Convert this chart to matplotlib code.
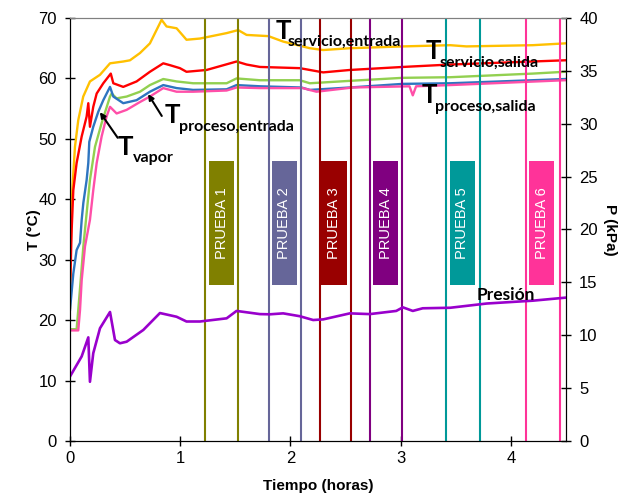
import matplotlib
matplotlib.use("Agg")
import matplotlib.pyplot as plt
from matplotlib.patches import Rectangle

# temperatures (left axis), time in hours
t_serv_in = [0, 0.006, 0.021, 0.045, 0.075, 0.12, 0.181, 0.272, 0.363, 0.483, 0.544, 0.635, 0.725, 0.831,
             0.876, 0.967, 1.057, 1.179, 1.421, 1.526, 1.602, 1.8, 1.934, 2.176, 2.297, 2.539, 3.02, 3.45,
             3.596, 4.198, 4.49]
T_serv_in = [22, 32, 41.5, 48.7, 53.1, 57, 59.5, 60.6, 62.5, 62.8, 63.0, 64.2, 65.8, 69.7,
             68.6, 68.3, 66.4, 66.6, 67.5, 68.0, 67.2, 67.0, 66.1, 65.0, 64.7, 65.0, 65.3, 65.5,
             65.3, 65.5, 65.8]

t_serv_out = [0, 0.015, 0.03, 0.06, 0.106, 0.151, 0.166, 0.181, 0.211, 0.242, 0.302, 0.37, 0.393, 0.483,
              0.604, 0.725, 0.846, 0.906, 0.997, 1.057, 1.239, 1.511, 1.602, 1.723, 2.085, 2.297, 2.539,
              3.02, 3.45, 4.49]
T_serv_out = [24.5, 34.9, 41.5, 46, 50.4, 53.7, 55.9, 52.0, 55.3, 57.5, 59.2, 60.8, 59.2, 58.6,
              59.5, 61.1, 62.5, 62.2, 61.7, 61.1, 61.4, 62.8, 62.3, 61.9, 61.7, 61.0, 61.4,
              61.9, 62.3, 63.0]

t_proc_in = [0, 0.06, 0.075, 0.097, 0.121, 0.151, 0.181, 0.227, 0.287, 0.363, 0.378, 0.423, 0.514, 0.635,
             0.725, 0.846, 0.967, 1.117, 1.421, 1.511, 1.723, 2.085, 2.176, 2.539, 3.02, 3.45, 4.198, 4.49]
T_proc_in = [18.5, 18.5, 21.7, 26.6, 32.2, 37.7, 43.2, 48.7, 52.6, 57.0, 57.5, 56.7, 57.0, 57.8,
             58.9, 59.9, 59.5, 59.2, 59.2, 60.0, 59.7, 59.7, 59.2, 59.6, 60.1, 60.2, 60.8, 61.1]

t_vapor = [0, 0.03, 0.06, 0.091, 0.106, 0.121, 0.151, 0.166, 0.175, 0.211, 0.257, 0.302, 0.363, 0.393,
           0.483, 0.604, 0.725, 0.846, 0.967, 1.117, 1.421, 1.511, 1.723, 2.1, 2.176, 2.539, 3.02, 3.45, 4.49]
T_vapor = [21.7, 27.7, 31.6, 32.8, 36.6, 39.4, 43.2, 46.0, 49.5, 52.0, 54.5, 56.4, 58.6, 57.0,
           55.9, 56.4, 57.8, 58.9, 58.4, 58.1, 58.2, 58.9, 58.7, 58.5, 58.1, 58.5, 59.1, 59.2, 59.9]

t_proc_out = [0, 0.075, 0.091, 0.106, 0.136, 0.181, 0.211, 0.242, 0.287, 0.332, 0.363, 0.423, 0.514, 0.635,
              0.725, 0.846, 0.967, 1.117, 1.421, 1.511, 1.723, 2.112, 2.236, 2.566, 3.08, 3.11, 3.14,
              3.45, 4.49]
T_proc_out = [18.3, 18.3, 21.7, 26.6, 32.2, 36.6, 41.5, 46, 50.4, 53.7, 55.3, 54.2, 54.8, 56.1,
              57.0, 58.4, 57.8, 57.8, 58.0, 58.5, 58.4, 58.4, 57.8, 58.5, 58.7, 57.2, 58.7,
              58.9, 59.7]

# pressure (right axis, kPa)
t_pres = [0, 0.106, 0.166, 0.181, 0.211, 0.272, 0.363, 0.408, 0.453, 0.514, 0.665, 0.816, 0.967, 1.057,
          1.179, 1.421, 1.511, 1.723, 1.813, 1.934, 2.085, 2.206, 2.297, 2.539, 2.72, 2.96, 3.02, 3.11,
          3.2, 3.45, 3.78, 4.2, 4.49]
P_pres = [6.1, 8.0, 9.8, 5.6, 8.3, 10.66, 12.2, 9.55, 9.24, 9.39, 10.5, 12.1, 11.75, 11.3,
          11.3, 11.6, 12.3, 12.0, 11.98, 12.07, 11.8, 11.44, 11.5, 12.07, 12.0, 12.3, 12.64, 12.3,
          12.55, 12.6, 13.0, 13.27, 13.55]

# test periods (start, end) in hours
pruebas = ["PRUEBA 1", "PRUEBA 2", "PRUEBA 3", "PRUEBA 4", "PRUEBA 5", "PRUEBA 6"]
prueba_ini = [1.224, 1.805, 2.267, 2.726, 3.415, 4.134]
prueba_fin = [1.523, 2.10, 2.545, 3.013, 3.72, 4.445]
prueba_lbl_x = [1.375, 1.945, 2.395, 2.865, 3.558, 4.281]
prueba_col = ["#808000", "#666699", "#990000", "#800080", "#009999", "#FF3399"]

plt.rcParams['font.family'] = ['Liberation Sans', 'DejaVu Sans']

fig = plt.figure(figsize=(6.29, 4.93), dpi=100)
ax = fig.add_axes([70/629, 1-441/493, 496/629, 423/493])
ax2 = ax.twinx()

ax.plot(t_serv_in, T_serv_in, color="#FFC000", lw=1.7)
ax.plot(t_serv_out, T_serv_out, color="#FF0000", lw=1.7)
ax.plot(t_proc_in, T_proc_in, color="#92D050", lw=1.7)
ax.plot(t_vapor, T_vapor, color="#2E75C0", lw=1.7)
ax.plot(t_proc_out, T_proc_out, color="#FF4FA8", lw=1.7)
ax2.plot(t_pres, P_pres, color="#9900CC", lw=1.9)

for i in range(len(pruebas)):
    ax.axvline(prueba_ini[i], color=prueba_col[i], lw=1.5)
    ax.axvline(prueba_fin[i], color=prueba_col[i], lw=1.5)
    ax.add_patch(Rectangle((prueba_lbl_x[i] - 0.114, 25.8), 0.228, 20.5,
                           facecolor=prueba_col[i], edgecolor="none", zorder=3))
    ax.text(prueba_lbl_x[i], 36.1, pruebas[i], rotation=90, color="white", fontsize=10.5,
            ha="center", va="center", zorder=4)

ax.set_xlim(0, 4.5)
ax.set_ylim(0, 70)
ax2.set_ylim(0, 40)
ax.set_xticks([0, 1, 2, 3, 4])
ax.set_yticks(range(0, 71, 10))
ax2.set_yticks(range(0, 41, 5))

for a in (ax, ax2):
    a.tick_params(direction="inout", length=7, width=1, labelsize=12, pad=4)
    a.spines["top"].set_color("#808080")
ax.tick_params(axis="y", pad=6)
ax2.tick_params(axis="y", pad=6)

ax.set_xlabel("Tiempo (horas)", fontsize=11, fontweight="bold", labelpad=9)
ax.set_ylabel("T (°C)", fontsize=11, fontweight="bold", labelpad=-2)
ax2.set_ylabel("P (kPa)", fontsize=11, fontweight="bold", rotation=270, labelpad=14)

# curve labels
lf = ['Lato', 'DejaVu Sans']
big = 18.5
small = 11.5
ax.annotate("", xy=(0.257, 54.8), xytext=(0.447, 49.8),
            arrowprops=dict(arrowstyle="-|>", color="black", lw=1.5, mutation_scale=8))
ax.annotate("", xy=(0.695, 57.8), xytext=(0.846, 53.4),
            arrowprops=dict(arrowstyle="-|>", color="black", lw=1.5, mutation_scale=8))

ax.text(0.435, 47.4, "T", family=lf, fontweight="bold", fontsize=big)
ax.text(0.571, 46.1, "vapor", family=lf, fontweight="bold", fontsize=small)
ax.text(0.861, 52.6, "T", family=lf, fontweight="bold", fontsize=big)
ax.text(0.985, 51.3, "proceso,entrada", family=lf, fontweight="bold", fontsize=small)
ax.text(1.868, 66.6, "T", family=lf, fontweight="bold", fontsize=big)
ax.text(1.976, 65.4, "servicio,entrada", family=lf, fontweight="bold", fontsize=small)
ax.text(3.228, 63.2, "T", family=lf, fontweight="bold", fontsize=big)
ax.text(3.354, 62.0, "servicio,salida", family=lf, fontweight="bold", fontsize=small)
ax.text(3.191, 55.9, "T", family=lf, fontweight="bold", fontsize=big)
ax.text(3.309, 54.6, "proceso,salida", family=lf, fontweight="bold", fontsize=small)
ax2.text(3.69, 13.3, "Presión", family=lf, fontweight="bold", fontsize=12.5)

fig.savefig("out.png", dpi=100)
